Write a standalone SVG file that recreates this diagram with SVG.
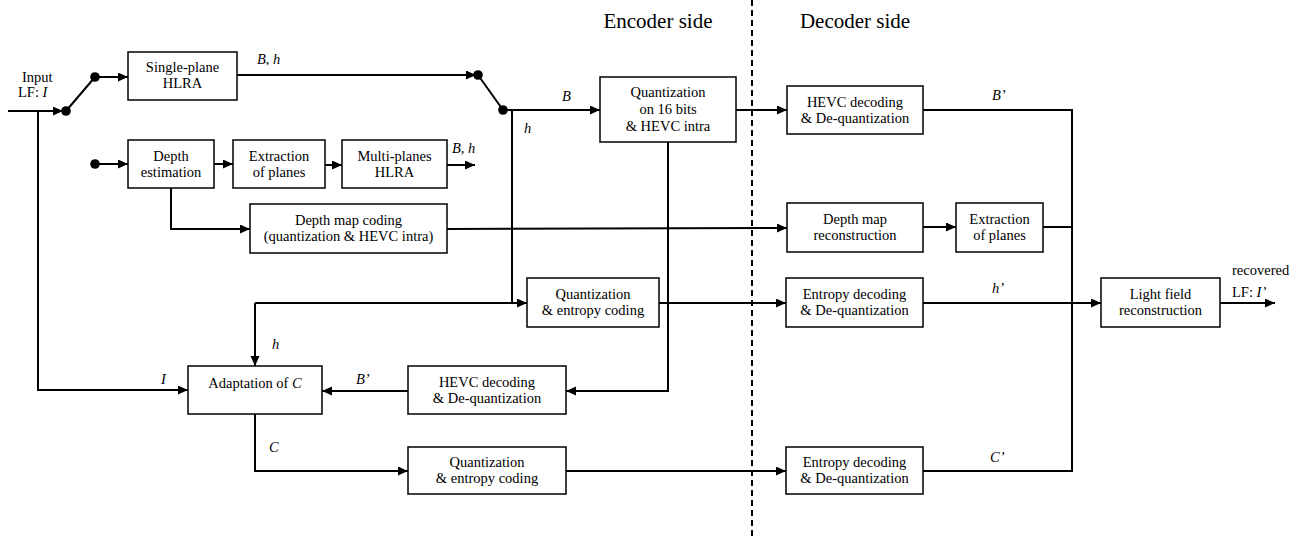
<svg xmlns="http://www.w3.org/2000/svg" width="1307" height="537" viewBox="0 0 1307 537">
<style>
.box{fill:#fff;stroke:#000;stroke-width:1.5}
.ln{fill:none;stroke:#000;stroke-width:2}
.ar{fill:none;stroke:#000;stroke-width:2;marker-end:url(#ah)}
.t{font-family:"Liberation Serif","Times New Roman",serif;font-size:14.5px;fill:#000;text-anchor:middle}
.lb{font-family:"Liberation Serif","Times New Roman",serif;font-size:14.5px;font-style:italic;fill:#000}
.tl{font-family:"Liberation Serif","Times New Roman",serif;font-size:14.5px;fill:#000}
.hd{font-family:"Liberation Serif","Times New Roman",serif;font-size:21px;fill:#000;text-anchor:middle}
.dot{fill:#000}
</style>
<defs>
<marker id="ah" markerUnits="userSpaceOnUse" markerWidth="11" markerHeight="10" refX="10" refY="4.5" orient="auto">
<path d="M0,0 L10,4.5 L0,9 z" fill="#000"/>
</marker>
</defs>
<rect width="1307" height="537" fill="#fff"/>

<g id="connectors">
<!-- input -->
<line class="ar" x1="8" y1="111" x2="63" y2="111"/>
<polyline class="ar" points="38,111 38,390 188,390"/>
<line class="ln" x1="66" y1="111" x2="95" y2="77"/>
<line class="ar" x1="95" y1="77" x2="128" y2="77"/>
<line class="ar" x1="237" y1="75" x2="476" y2="75"/>
<line class="ln" x1="478" y1="75" x2="503" y2="110"/>
<line class="ar" x1="503" y1="110" x2="600" y2="110"/>
<polyline class="ar" points="512,110 512,303 527,303"/>
<line class="ar" x1="95" y1="164" x2="128" y2="164"/>
<line class="ar" x1="214" y1="164" x2="233" y2="164"/>
<line class="ar" x1="325" y1="165" x2="342" y2="165"/>
<line class="ar" x1="447" y1="165" x2="475" y2="165"/>
<polyline class="ar" points="171,188 171,229 250,229"/>
<line class="ar" x1="447" y1="229" x2="787" y2="228"/>
<polyline class="ar" points="255,303 255,366"/>
<line class="ln" x1="255" y1="303" x2="512" y2="303"/>
<line class="ar" x1="736" y1="110" x2="787" y2="110"/>
<polyline class="ar" points="668,142 668,391 566,391"/>
<line class="ar" x1="408" y1="391" x2="322" y2="391"/>
<polyline class="ar" points="255,414 255,471 408,471"/>
<line class="ar" x1="659" y1="303" x2="786" y2="303"/>
<line class="ar" x1="566" y1="471" x2="786" y2="471"/>
<!-- decoder side -->
<polyline class="ln" points="923,110 1072,110 1072,471 923,471"/>
<line class="ar" x1="923" y1="227" x2="956" y2="227"/>
<line class="ln" x1="1043" y1="227" x2="1072" y2="227"/>
<line class="ar" x1="923" y1="303" x2="1101" y2="303"/>
<line class="ar" x1="1220" y1="303" x2="1275" y2="303"/>
<!-- dashed separator -->
<line x1="752" y1="0" x2="752" y2="537" stroke="#000" stroke-width="2" stroke-dasharray="6,4"/>
<!-- switch dots -->
<circle class="dot" cx="66" cy="111" r="4.8"/>
<circle class="dot" cx="95" cy="77" r="4.8"/>
<circle class="dot" cx="95" cy="164" r="4.8"/>
<circle class="dot" cx="478" cy="75" r="4.8"/>
<circle class="dot" cx="503" cy="110" r="4.8"/>
</g>

<g id="labels">
<text class="tl" x="22" y="82">Input</text>
<text class="tl" x="18" y="97">LF: <tspan font-style="italic">I</tspan></text>
<text class="lb" x="257" y="64">B, h</text>
<text class="lb" x="452" y="153">B, h</text>
<text class="lb" x="562" y="101">B</text>
<text class="lb" x="524" y="133">h</text>
<text class="lb" x="272" y="349">h</text>
<text class="lb" x="161" y="384">I</text>
<text class="lb" x="356" y="384">B’</text>
<text class="lb" x="269" y="452">C</text>
<text class="lb" x="992" y="100">B’</text>
<text class="lb" x="992" y="293">h’</text>
<text class="lb" x="990" y="462">C’</text>
<text class="tl" x="1232" y="275">recovered</text>
<text class="tl" x="1232" y="297">LF: <tspan font-style="italic">I’</tspan></text>
<text class="hd" x="658" y="28">Encoder side</text>
<text class="hd" x="855" y="28">Decoder side</text>
</g>

<g id="single-plane">
<rect class="box" x="128" y="52" width="109" height="48"/>
<text class="t" x="182.5" y="72">Single-plane</text>
<text class="t" x="182.5" y="88">HLRA</text>
</g>
<g id="depth-estimation">
<rect class="box" x="128" y="140" width="86" height="48"/>
<text class="t" x="171" y="160.5">Depth</text>
<text class="t" x="171" y="176.5">estimation</text>
</g>
<g id="extraction-enc">
<rect class="box" x="233" y="140" width="92" height="48"/>
<text class="t" x="279" y="160.5">Extraction</text>
<text class="t" x="279" y="176.5">of planes</text>
</g>
<g id="multi-planes">
<rect class="box" x="342" y="140" width="105" height="48"/>
<text class="t" x="394.5" y="160.5">Multi-planes</text>
<text class="t" x="394.5" y="176.5">HLRA</text>
</g>
<g id="depth-map-coding">
<rect class="box" x="250" y="204" width="197" height="49"/>
<text class="t" x="348.5" y="225">Depth map coding</text>
<text class="t" x="348.5" y="241">(quantization &amp; HEVC intra)</text>
</g>
<g id="quant16">
<rect class="box" x="600" y="77" width="136" height="65"/>
<text class="t" x="668" y="97">Quantization</text>
<text class="t" x="668" y="114">on 16 bits</text>
<text class="t" x="668" y="131">&amp; HEVC intra</text>
</g>
<g id="quant-entropy-h">
<rect class="box" x="527" y="278" width="132" height="49"/>
<text class="t" x="593" y="299">Quantization</text>
<text class="t" x="593" y="315">&amp; entropy coding</text>
</g>
<g id="adaptation">
<rect class="box" x="188" y="366" width="134" height="48"/>
<text class="t" x="255" y="388">Adaptation of <tspan font-style="italic">C</tspan></text>
</g>
<g id="hevc-dec-enc">
<rect class="box" x="408" y="366" width="158" height="48"/>
<text class="t" x="487" y="386.5">HEVC decoding</text>
<text class="t" x="487" y="402.5">&amp; De-quantization</text>
</g>
<g id="quant-entropy-c">
<rect class="box" x="408" y="447" width="158" height="47"/>
<text class="t" x="487" y="467">Quantization</text>
<text class="t" x="487" y="483">&amp; entropy coding</text>
</g>
<g id="hevc-dec">
<rect class="box" x="787" y="86" width="136" height="48"/>
<text class="t" x="855" y="106.5">HEVC decoding</text>
<text class="t" x="855" y="122.5">&amp; De-quantization</text>
</g>
<g id="depth-recon">
<rect class="box" x="787" y="203" width="136" height="49"/>
<text class="t" x="855" y="224">Depth map</text>
<text class="t" x="855" y="240">reconstruction</text>
</g>
<g id="extraction-dec">
<rect class="box" x="956" y="203" width="87" height="49"/>
<text class="t" x="999.5" y="224">Extraction</text>
<text class="t" x="999.5" y="240">of planes</text>
</g>
<g id="entropy-dec-h">
<rect class="box" x="786" y="278" width="137" height="49"/>
<text class="t" x="854.5" y="299">Entropy decoding</text>
<text class="t" x="854.5" y="315">&amp; De-quantization</text>
</g>
<g id="entropy-dec-c">
<rect class="box" x="786" y="447" width="137" height="47"/>
<text class="t" x="854.5" y="467">Entropy decoding</text>
<text class="t" x="854.5" y="483">&amp; De-quantization</text>
</g>
<g id="lf-recon">
<rect class="box" x="1101" y="278" width="119" height="49"/>
<text class="t" x="1160.5" y="299">Light field</text>
<text class="t" x="1160.5" y="315">reconstruction</text>
</g>
</svg>
